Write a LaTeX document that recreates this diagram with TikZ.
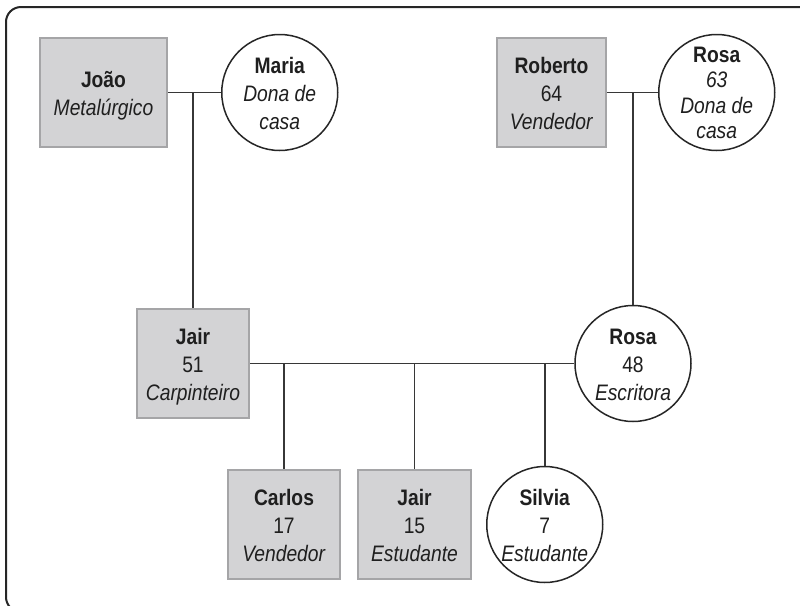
\documentclass[tikz,border=0pt]{standalone}
\usepackage{fontspec}
\setmainfont[FakeStretch=0.86]{Liberation Sans}
\usetikzlibrary{positioning}

\definecolor{caixacinza}{RGB}{211,211,213}
\definecolor{bordacinza}{RGB}{165,165,167}
\definecolor{traco}{RGB}{55,55,55}

% texto de cada pessoa, centrado e sem altura propria
\newcommand{\dados}[2][1]{\smash{\raisebox{-0.38em}{\renewcommand{\arraystretch}{#1}\begin{tabular}{@{}c@{}}#2\end{tabular}}}}

\begin{document}
\begin{tikzpicture}[
    x=0.5pt, y=-0.5pt,
    font=\fontsize{11.2}{14}\selectfont,
    text=black!88,
    homem/.style={rectangle, draw=bordacinza, fill=caixacinza, line width=1pt, minimum width=55pt, minimum height=54.5pt, inner xsep=2pt},
    mulher/.style={circle, draw=black!85, fill=white, line width=0.75pt, minimum size=58pt, inner sep=0pt},
    linha/.style={draw=traco, line width=0.75pt}
  ]
  \useasboundingbox (0,0) rectangle (800,606);
  \clip (0,0) rectangle (800,606);

  % Moldura
  \draw[line width=1pt, black!85, rounded corners=7.5pt] (830,7) -- (6,7) -- (6,612) -- (40,612);

  % Avos paternos
  \node[homem, minimum width=63.5pt] (joao) at (103.5,92.5) {\dados{\textbf{João}\\\textit{Metalúrgico}}};
  \node[mulher, right=26.5pt of joao] (maria) {\dados{\textbf{Maria}\\\textit{Dona de}\\\textit{casa}}};

  % Avos maternos
  \node[homem, minimum width=54.5pt] (roberto) at (551.5,92.5) {\dados{\textbf{Roberto}\\64\\\textit{Vendedor}}};
  \node[mulher, right=25.5pt of roberto] (rosa63) {\dados[0.9]{\textbf{Rosa}\\\textit{63}\\\textit{Dona de}\\\textit{casa}}};

  % Pais
  \node[homem, minimum width=56pt] (jair51) at (193,363.5) {\dados{\textbf{Jair}\\51\\\textit{Carpinteiro}}};
  \node[mulher] (rosa48) at (633,363.5) {\dados{\textbf{Rosa}\\48\\\textit{Escritora}}};

  % Filhos
  \node[homem, minimum width=56pt] (carlos) at (284,524.5) {\dados{\textbf{Carlos}\\17\\\textit{Vendedor}}};
  \node[homem, minimum width=56.5pt, right=8pt of carlos] (jair15) {\dados{\textbf{Jair}\\15\\\textit{Estudante}}};
  \node[mulher, right=7pt of jair15] (silvia) {\dados{\textbf{Silvia}\\7\\\textit{Estudante}}};

  % Ligacoes
  \draw[linha] (joao.east) -- (maria.west);
  \draw[linha] (jair51.north) -- (jair51.north |- joao.east);
  \draw[linha] (roberto.east) -- (rosa63.west);
  \draw[linha] (rosa48.north) -- (rosa48.north |- roberto.east);
  \draw[linha] (jair51.east) -- (rosa48.west);
  \foreach \filho in {carlos, jair15, silvia}
    \draw[linha] (\filho.north) -- (\filho.north |- jair51.east);
\end{tikzpicture}
\end{document}
